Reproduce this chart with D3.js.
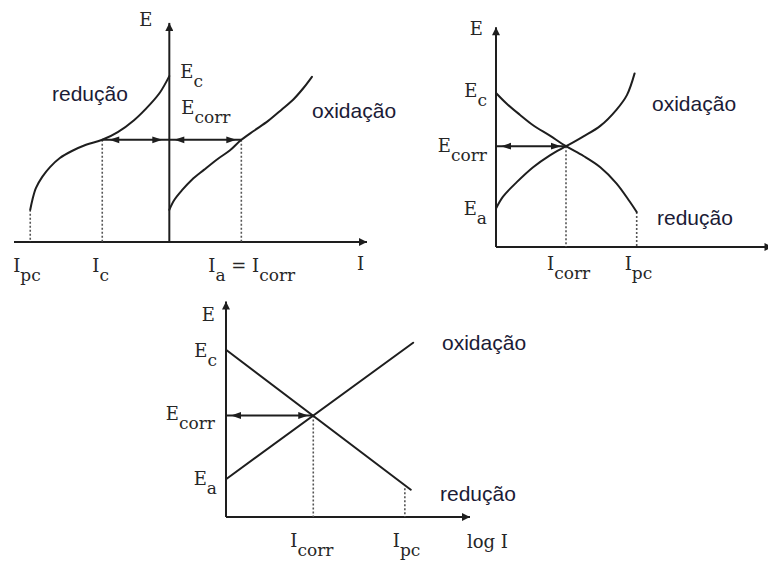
<!DOCTYPE html>
<html>
<head>
<meta charset="utf-8">
<script src="https://cdn.jsdelivr.net/npm/d3@7"></script>
<style>
  body { margin: 0; background: #fff; }
  svg { display: block; }
</style>
</head>
<body>
<script>
// ---------- Diagram A: E vs I (linear), cathodic branch on the left ----------
const reducaoA = [[-1.97,0.46],[-1.94,0.60],[-1.89,0.77],[-1.80,0.93],[-1.69,1.07],[-1.55,1.20],
                  [-1.38,1.30],[-1.18,1.39],[-0.95,1.46],[-0.73,1.57],[-0.50,1.74],[-0.27,1.97],
                  [-0.13,2.14],[0,2.37]];
const oxidacaoA = [[0,0.46],[0.07,0.60],[0.18,0.74],[0.32,0.89],[0.49,1.03],[0.69,1.19],
                   [0.86,1.31],[1.02,1.46],[1.20,1.59],[1.40,1.73],[1.59,1.89],[1.76,2.04],
                   [1.90,2.20],[2.02,2.36]];
const IpcA = -1.97, IcA = -0.95, IcorrA = 1.02, EcA = 2.37, EcorrA = 1.46;

// ---------- Diagram B: E vs I, both branches on the same side ----------
const reducaoB = [[0,2.20],[0.15,2.05],[0.34,1.89],[0.53,1.74],[0.77,1.59],[1.0,1.44],
                  [1.25,1.30],[1.49,1.14],[1.72,0.91],[1.91,0.65],[2.01,0.50]];
const oxidacaoB = [[0,0.55],[0.10,0.72],[0.30,0.93],[0.53,1.14],[0.77,1.31],[1.0,1.44],
                   [1.25,1.58],[1.49,1.73],[1.72,1.96],[1.87,2.17],[1.98,2.48]];
const IcorrB = 1.0, IpcB = 2.01, EcB = 2.20, EcorrB = 1.44, EaB = 0.55;

// ---------- Diagram C: E vs log I (Tafel lines) ----------
const reducaoC = [[1,2.39],[35000,0.39]];
const oxidacaoC = [[1,0.54],[40000,2.49]];
const IcorrC = 140, IpcC = 25000, EcC = 2.39, EcorrC = 1.45, EaC = 0.54;

const W = 768, H = 562;
const INK = "#1e1e1e";
const LABEL = "#1b1b36";
const SERIF = "'DejaVu Serif', 'Liberation Serif', serif";
const SANS = "'Liberation Sans', Arial, sans-serif";

const svg = d3.select("body").append("svg")
  .attr("width", W).attr("height", H)
  .attr("viewBox", `0 0 ${W} ${H}`);

const defs = svg.append("defs");
function arrowMarker(id, len, wid) {
  defs.append("marker")
    .attr("id", id)
    .attr("viewBox", "0 0 10 10")
    .attr("refX", 10).attr("refY", 5)
    .attr("markerUnits", "userSpaceOnUse")
    .attr("markerWidth", len).attr("markerHeight", wid)
    .attr("orient", "auto")
    .append("path").attr("d", "M0,0L10,5L0,10Z").attr("fill", INK);
}
arrowMarker("axisHead", 12, 8);

const line = (x, y) => d3.line().x(d => x(d[0])).y(d => y(d[1])).curve(d3.curveCatmullRom.alpha(0.5));

function axes(g, x, y, x0, x1, y0, y1, xOrigin) {
  // horizontal axis (E = 0)
  g.append("line")
    .attr("x1", x(x0)).attr("x2", x(x1))
    .attr("y1", y(0)).attr("y2", y(0))
    .attr("stroke", INK).attr("stroke-width", 2)
    .attr("marker-end", "url(#axisHead)");
  // vertical axis (I = origin)
  g.append("line")
    .attr("x1", x(xOrigin)).attr("x2", x(xOrigin))
    .attr("y1", y(y0)).attr("y2", y(y1))
    .attr("stroke", INK).attr("stroke-width", 2)
    .attr("marker-end", "url(#axisHead)");
}

function curve(g, pts, x, y) {
  g.append("path")
    .attr("d", line(x, y)(pts))
    .attr("fill", "none").attr("stroke", INK)
    .attr("stroke-width", 2).attr("stroke-linecap", "round");
}

function dotted(g, xv, ev, x, y) {
  g.append("line")
    .attr("x1", x(xv)).attr("x2", x(xv))
    .attr("y1", y(ev)).attr("y2", y(0))
    .attr("stroke", "#555").attr("stroke-width", 1.6)
    .attr("stroke-dasharray", "2,2");
}

// double-headed arrow along E = ev, between currents a and b
function doubleArrow(g, a, b, ev, x, y, inset) {
  const xa = x(a), xb = x(b), yy = y(ev);
  g.append("line")
    .attr("x1", xa).attr("x2", xb).attr("y1", yy).attr("y2", yy)
    .attr("stroke", INK).attr("stroke-width", 2);
  const L = 10, Wd = 3.4;
  const tl = xa + inset, tr = xb - inset;
  g.append("path")
    .attr("d", `M${tl},${yy}L${tl + L},${yy - Wd}L${tl + L},${yy + Wd}Z`)
    .attr("fill", INK);
  g.append("path")
    .attr("d", `M${tr},${yy}L${tr - L},${yy - Wd}L${tr - L},${yy + Wd}Z`)
    .attr("fill", INK);
}

// serif symbol with a subscript (E_c, I_corr ...)
function sym(g, px, py, main, sub, anchor) {
  const t = g.append("text")
    .attr("x", px).attr("y", py)
    .attr("font-family", SERIF).attr("font-size", 18)
    .attr("fill", "#262626")
    .attr("text-anchor", anchor || "start");
  t.append("tspan").text(main);
  if (sub) t.append("tspan").attr("dy", 9).attr("font-size", 17).text(sub);
  return t;
}

function word(g, px, py, txt) {
  g.append("text")
    .attr("x", px).attr("y", py)
    .attr("font-family", SANS).attr("font-size", 21)
    .attr("fill", LABEL)
    .text(txt);
}

// ===== Diagram A =====
{
  const g = svg.append("g");
  const x = d3.scaleLinear().domain([-2.2, 2.8]).range([14, 367]);
  const y = d3.scaleLinear().domain([0, 3.1]).range([242, 25]);
  axes(g, x, y, -2.2, 2.8, 0, 3.13, 0);
  dotted(g, IpcA, reducaoA[0][1], x, y);
  dotted(g, IcA, EcorrA, x, y);
  dotted(g, IcorrA, EcorrA, x, y);
  curve(g, reducaoA, x, y);
  curve(g, oxidacaoA, x, y);
  doubleArrow(g, IcA, 0, EcorrA, x, y, 7);
  doubleArrow(g, 0, IcorrA, EcorrA, x, y, 5);

  sym(g, x(0) - 17, 26, "E", null, "end");
  sym(g, x(0) + 11, y(EcA) + 2, "E", "c");
  sym(g, x(0) + 12, y(EcorrA) - 26, "E", "corr");
  sym(g, x(IpcA) - 17, 272, "I", "pc");
  sym(g, x(IcA) - 10, 272, "I", "c");
  const t = sym(g, x(IcorrA) - 33, 272, "I", "a");
  t.append("tspan").attr("dy", -9).text(" = I");
  t.append("tspan").attr("dy", 9).attr("font-size", 17).text("corr");
  sym(g, 357, 270, "I");

  word(g, 52, 101, "redução");
  word(g, 312, 118, "oxidação");
}

// ===== Diagram B =====
{
  const g = svg.append("g");
  const x = d3.scaleLinear().domain([0, 3.9]).range([496, 769]);
  const y = d3.scaleLinear().domain([0, 3.1]).range([247, 30]);
  axes(g, x, y, 0, 3.95, 0, 3.14, 0);
  dotted(g, IcorrB, EcorrB, x, y);
  dotted(g, IpcB, reducaoB[reducaoB.length - 1][1], x, y);
  curve(g, reducaoB, x, y);
  curve(g, oxidacaoB, x, y);
  doubleArrow(g, 0, IcorrB, EcorrB, x, y, 5);

  sym(g, x(0) - 13, 35, "E", null, "end");
  sym(g, x(0) - 9, y(EcB) + 4, "E", "c", "end");
  sym(g, x(0) - 9, y(EcorrB) + 6, "E", "corr", "end");
  sym(g, x(0) - 9, y(EaB) + 6, "E", "a", "end");
  sym(g, x(IcorrB) - 19, 270, "I", "corr");
  sym(g, x(IpcB) - 12, 270, "I", "pc");

  word(g, 652, 111, "oxidação");
  word(g, 657, 225, "redução");
}

// ===== Diagram C =====
{
  const g = svg.append("g");
  const x = d3.scaleLog().domain([1, 1e6]).range([226, 470]);
  const y = d3.scaleLinear().domain([0, 3.1]).range([517, 300]);
  axes(g, x, y, 1, 1e6, 0, 3.08, 1);
  dotted(g, IcorrC, EcorrC, x, y);
  dotted(g, IpcC, reducaoC[1][1] + 0.02, x, y);
  curve(g, reducaoC, x, y);
  curve(g, oxidacaoC, x, y);
  doubleArrow(g, 1, IcorrC, EcorrC, x, y, 5);

  sym(g, x(1) - 11, 321, "E", null, "end");
  sym(g, x(1) - 9, y(EcC) + 7, "E", "c", "end");
  sym(g, x(1) - 11, y(EcorrC) + 4, "E", "corr", "end");
  sym(g, x(1) - 9, y(EaC) + 6, "E", "a", "end");
  sym(g, x(IcorrC) - 23, 547, "I", "corr");
  sym(g, x(IpcC) - 12, 547, "I", "pc");
  sym(g, 467, 548, "log I");

  word(g, 442, 350, "oxidação");
  word(g, 440, 501, "redução");
}
</script>
</body>
</html>
